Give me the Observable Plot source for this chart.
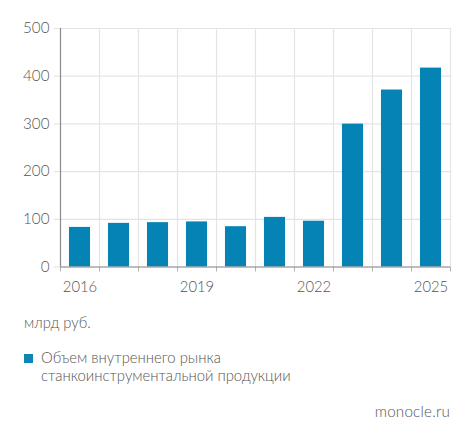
<!DOCTYPE html>
<html><head><meta charset="utf-8">
<script src="https://cdn.jsdelivr.net/npm/d3@7"></script>
<script src="https://cdn.jsdelivr.net/npm/@observablehq/plot@0.6"></script>
<style>
html,body{margin:0;padding:0;background:#fff;}
body{width:474px;height:439px;position:relative;overflow:hidden;font-family:Lato,sans-serif;color:#555;font-weight:300;}
svg{display:block;}
#unit{position:absolute;left:24px;top:314px;font-size:14.8px;line-height:17px;}
#legend{position:absolute;left:24px;top:349px;font-size:14.85px;line-height:17.5px;display:flex;}
#swatch{width:9px;height:9px;background:#0f85b6;margin-top:5px;margin-right:8px;flex:none;}
#source{position:absolute;right:24px;top:402px;font-size:15.2px;line-height:18px;letter-spacing:.2px;}
</style></head><body>
<div id="chart"></div>
<div id="unit"></div>
<div id="legend"><div id="swatch"></div><div id="legendText"></div></div>
<div id="source"></div>
<script>
const years = [2016,2017,2018,2019,2020,2021,2022,2023,2024,2025];
const values = [83,91.5,93,94.5,84.5,104,96,299.5,371,417];
const yTicks = [0,100,200,300,400,500];
const xLabels = [2016,2019,2022,2025];
const unitLabel = "млрд руб.";
const legendLines = ["Объем внутреннего рынка","станкоинструментальной продукции"];
const sourceLabel = "monocle.ru";

const rows = years.map((year,i)=>({year,value:values[i]}));
const edges = [...years.map(y=>y-0.5), years[years.length-1]+0.5];
const gridColor = "#e4e4e4", axisColor = "#8a8a8a", textColor = "#555", barColor = "#0583b5";

const chart = Plot.plot({
  width:474, height:300,
  marginLeft:60, marginRight:24, marginTop:28, marginBottom:33.5,
  style:{fontFamily:"Lato, sans-serif", fontWeight:300, background:"#fff"},
  x:{type:"linear",domain:[edges[0],edges[edges.length-1]], label:null},
  y:{type:"linear",domain:[0,500], label:null},
  marks:[
    Plot.ruleY(yTicks,{y:d=>d,x1:edges[0],x2:edges[edges.length-1],stroke:gridColor,strokeWidth:1.2}),
    Plot.ruleX(edges,{x:d=>d,y1:0,y2:500,stroke:gridColor,strokeWidth:1.2}),
    Plot.axisY({ticks:yTicks,tickSize:6,tickPadding:5,stroke:gridColor,strokeWidth:1.2,fontSize:15.2,fill:textColor,label:null}),
    Plot.axisX({ticks:edges,tickSize:5,tickFormat:()=>"",stroke:"#b4b4b4",label:null}),
    Plot.axisX({ticks:xLabels,tickSize:0,tickPadding:14,tickFormat:d=>String(d),fontSize:14.8,fill:textColor,label:null}),
    Plot.rectY(rows,{x1:d=>d.year-0.27,x2:d=>d.year+0.27,y1:0,y2:"value",fill:barColor}),
    Plot.ruleX([edges[0]],{y1:0,y2:500,stroke:axisColor,strokeWidth:1.2}),
    Plot.ruleY([0],{x1:edges[0],x2:edges[edges.length-1],stroke:axisColor,strokeWidth:1.2})
  ]
});
document.getElementById("chart").append(chart);
document.getElementById("unit").textContent = unitLabel;
document.getElementById("legendText").innerHTML = legendLines.join("<br>");
document.getElementById("source").textContent = sourceLabel;
</script>
</body></html>
